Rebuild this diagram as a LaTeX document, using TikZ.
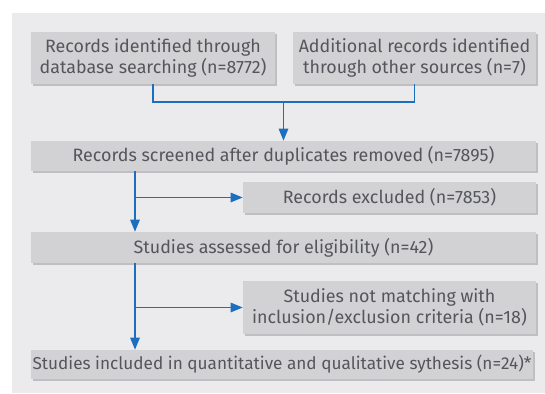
\documentclass[tikz,border=0pt]{standalone}
\usepackage{fontspec}
\setmainfont{Fira Sans}
\usetikzlibrary{arrows.meta,shadows}
\definecolor{panel}{HTML}{EBEBED}
\definecolor{boxfill}{HTML}{D2D2D4}
\definecolor{shadowc}{HTML}{BFBFC2}
\definecolor{txt}{HTML}{55565B}
\definecolor{arrowc}{HTML}{1B6FBE}
\tikzset{
  flowbox/.style={fill=boxfill, inner sep=0pt, align=center, text=txt,
    font=\fontsize{13.4}{15.8}\selectfont,
    drop shadow={shadow xshift=1.8pt, shadow yshift=-1.8pt, fill=shadowc, opacity=1}},
  link/.style={draw=arrowc, line width=1.3pt},
  arr/.style={link, -{Triangle[length=9pt,width=7pt]}},
}
\begin{document}
\begin{tikzpicture}[x=0.75pt,y=-0.75pt]
\useasboundingbox (0,0) rectangle (545,393);
\fill[white] (0,0) rectangle (545,393);
\fill[panel] (12,13) rectangle (545,393);
\node[flowbox, minimum width=244*0.75pt, minimum height=52*0.75pt] (b1) at (153,58)
  {Records identified through\\database searching (n=8772)};
\node[flowbox, minimum width=243*0.75pt, minimum height=52*0.75pt] (b2) at (414.5,58)
  {Additional records identified\\through other sources (n=7)};
\node[flowbox, minimum width=505*0.75pt, minimum height=30*0.75pt] (b3) at (283.5,156)
  {Records screened after duplicates removed (n=7895)};
\node[flowbox, minimum width=293*0.75pt, minimum height=31*0.75pt] (b4) at (389.5,197.5)
  {Records excluded (n=7853)};
\node[flowbox, minimum width=505*0.75pt, minimum height=31*0.75pt] (b5) at (283.5,247.5)
  {Studies assessed for eligibility (n=42)};
\node[flowbox, minimum width=293*0.75pt, minimum height=53*0.75pt] (b6) at (389.5,307.5)
  {Studies not matching with\\inclusion/exclusion criteria (n=18)};
\node[flowbox, minimum width=502*0.75pt, minimum height=29*0.75pt, font=\fontsize{12.9}{15.8}\selectfont] (b7) at (282,364.5)
  {Studies included in quantitative and qualitative sythesis (n=24)*};
\coordinate (j1) at (283.5,102);
\draw[link] (b1.south) |- (j1) -| (b2.south);
\draw[arr] (j1) -- (b3.north);
\coordinate (k1) at (135,197.5);
\draw[arr] (b3.south -| k1) -- (b5.north -| k1);
\draw[arr] (k1) -- (b4.west);
\coordinate (k2) at (135,307.5);
\draw[arr] (b5.south -| k2) -- (b7.north -| k2);
\draw[arr] (k2) -- (b6.west);
\end{tikzpicture}
\end{document}
